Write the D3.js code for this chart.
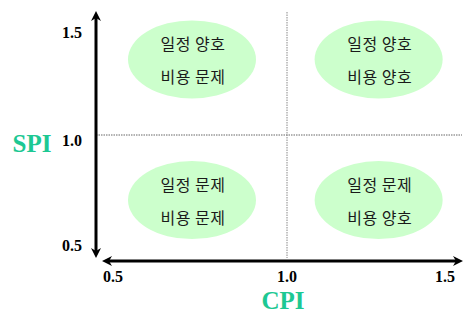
<!DOCTYPE html>
<html>
<head>
<meta charset="utf-8">
<script src="https://cdn.jsdelivr.net/npm/d3@7"></script>
<style>
  html, body { margin: 0; padding: 0; background: #fff; }
  svg { display: block; }
</style>
</head>
<body>
<svg id="chart" width="467" height="312"></svg>
<script>
// ---- data ----
const xTicks = [0.5, 1.0, 1.5];          // CPI tick values
const yTicks = [0.5, 1.0, 1.5];          // SPI tick values
const xTickLabels = ["0.5", "1.0", "1.5"];
const yTickLabels = ["0.5", "1.0", "1.5"];
const xTitle = "CPI";
const yTitle = "SPI";
const quadCPI = [0.727, 1.29, 0.727, 1.29];   // quadrant label centers (CPI)
const quadSPI = [1.35, 1.35, 0.69, 0.69];     // quadrant label centers (SPI)
const quadLine1 = ["일정 양호", "일정 양호", "일정 문제", "일정 문제"];
const quadLine2 = ["비용 문제", "비용 양호", "비용 문제", "비용 양호"];
const threshold = 1.0;

// ---- scales ----
const x = d3.scaleLinear().domain([0.5, 1.0, 1.5]).range([113, 287, 445]);
const y = d3.scaleLinear().domain([0.5, 1.0, 1.5]).range([240, 135, 27]);

const svg = d3.select("#chart");
const axisX = 96, axisY = 261;
const topY = 11, bottomY = 258, leftX = 102, rightX = 463;

// ellipses
const quads = quadCPI.map((c, i) => ({cpi: c, spi: quadSPI[i], l1: quadLine1[i], l2: quadLine2[i]}));
const g = svg.append("g");
g.selectAll("ellipse").data(quads).enter().append("ellipse")
  .attr("cx", d => x(d.cpi)).attr("cy", d => y(d.spi))
  .attr("rx", 64).attr("ry", 39)
  .attr("fill", "#ccffcc");

const txt = g.selectAll("g.q").data(quads).enter().append("g").attr("class", "q")
  .attr("transform", d => `translate(${x(d.cpi)+1},${y(d.spi)})`);
txt.append("text").attr("y", -16).text(d => d.l1);
txt.append("text").attr("y", 17).text(d => d.l2);
txt.selectAll("text")
  .attr("text-anchor", "middle").attr("dominant-baseline", "central")
  .attr("font-family", "'Noto Sans CJK KR', sans-serif")
  .attr("font-size", 16).attr("letter-spacing", 0.5)
  .attr("fill", "#1a1a1a");

// dotted threshold lines
svg.append("line")
  .attr("x1", axisX).attr("x2", rightX - 1)
  .attr("y1", y(threshold)).attr("y2", y(threshold))
  .attr("stroke", "#666").attr("stroke-width", 1).attr("stroke-dasharray", "1.5,1");
svg.append("line")
  .attr("x1", x(threshold)).attr("x2", x(threshold))
  .attr("y1", topY + 1).attr("y2", bottomY)
  .attr("stroke", "#888").attr("stroke-width", 1).attr("stroke-dasharray", "1.5,1");

// axes
const axes = svg.append("g").attr("fill", "#000").attr("stroke", "#000");
axes.append("line").attr("x1", axisX).attr("x2", axisX).attr("y1", topY + 6).attr("y2", bottomY - 6).attr("stroke-width", 3);
axes.append("line").attr("x1", leftX + 6).attr("x2", rightX - 6).attr("y1", axisY).attr("y2", axisY).attr("stroke-width", 3);
const head = (tx, ty, ang) => {
  const p = [[0,0],[-10,-5],[-7,0],[-10,5]].map(([a,b]) => {
    const r = ang * Math.PI/180;
    return [tx + a*Math.cos(r) - b*Math.sin(r), ty + a*Math.sin(r) + b*Math.cos(r)];
  });
  axes.append("polygon").attr("points", p.map(q => q.join(",")).join(" ")).attr("stroke", "none");
};
head(axisX, topY, -90);
head(axisX, bottomY, 90);
head(leftX, axisY, 180);
head(rightX, axisY, 0);

// tick labels
const tickFont = "'Liberation Serif', 'Times New Roman', serif";
svg.selectAll("text.yt").data(yTicks).enter().append("text").attr("class", "yt")
  .attr("x", 72).attr("y", d => y(d) + 5)
  .attr("text-anchor", "middle").attr("dominant-baseline", "central")
  .attr("font-family", tickFont).attr("font-weight", "bold").attr("font-size", 16)
  .text((d, i) => yTickLabels[i]);
svg.selectAll("text.xt").data(xTicks).enter().append("text").attr("class", "xt")
  .attr("x", d => x(d)).attr("y", 276)
  .attr("text-anchor", "middle").attr("dominant-baseline", "central")
  .attr("font-family", tickFont).attr("font-weight", "bold").attr("font-size", 16)
  .text((d, i) => xTickLabels[i]);

// titles
svg.append("text").attr("x", 32).attr("y", 143)
  .attr("text-anchor", "middle").attr("dominant-baseline", "central")
  .attr("font-family", tickFont).attr("font-weight", "bold").attr("font-size", 25)
  .attr("fill", "#1dc893").text(yTitle);
svg.append("text").attr("x", 283).attr("y", 300)
  .attr("text-anchor", "middle").attr("dominant-baseline", "central")
  .attr("font-family", tickFont).attr("font-weight", "bold").attr("font-size", 25)
  .attr("fill", "#1dc893").text(xTitle);
</script>
</body>
</html>
